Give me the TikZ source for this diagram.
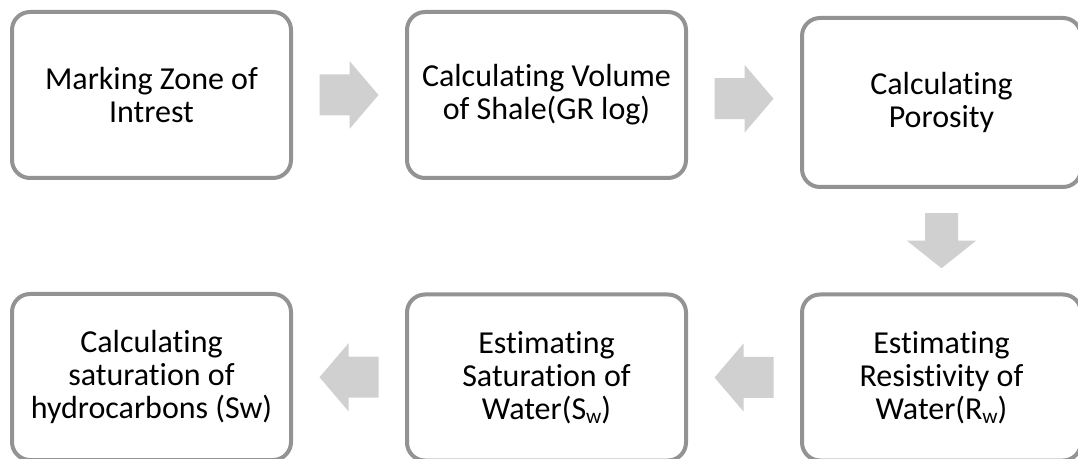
\documentclass[tikz,border=0pt]{standalone}
\usepackage{fontspec}
\setmainfont{Carlito}[Ligatures=NoCommon]
\usetikzlibrary{calc}

\definecolor{boxline}{HTML}{939393}
\definecolor{arrowgray}{HTML}{D0D0D0}

% subscript set low, as in the step labels
\newcommand{\lowsub}[1]{\raisebox{-0.28ex}{\fontsize{16}{16}\selectfont #1}}

\tikzset{
  stepbox/.style={
    draw=boxline, line width=3pt, rounded corners=13.5pt, fill=white,
    minimum width=209.25pt, minimum height=124.5pt,
    align=center, inner sep=0pt, text=black,
    font=\fontsize{24}{24.75}\selectfont
  },
  harrow/.pic={
    \fill[arrowgray] (-29.5,-20.5) -- (0.5,-20.5) -- (0.5,-34) -- (29.5,0)
      -- (0.5,34) -- (0.5,20.5) -- (-29.5,20.5) -- cycle;
  },
  varrow/.pic={
    \fill[arrowgray] (-27.5,-16.5) -- (0,-16.5) -- (0,-34.5) -- (27.5,0)
      -- (0,34.5) -- (0,16.5) -- (-27.5,16.5) -- cycle;
  }
}

\begin{document}
\begin{tikzpicture}[x=0.75pt, y=-0.75pt]
  \useasboundingbox (0,0) rectangle (1078,459);
  \clip (0,0) rectangle (1078,459);

  % top row
  \node[stepbox] (b1) at (151.5,95) {Marking Zone of\\Intrest};
  \node[stepbox] (b2) at (546.5,95) {Calculating Volume\\of Shale(GR log)};
  \node[stepbox, minimum height=126.75pt] (b3) at (941.5,102.5) {Calculating\\Porosity};

  % bottom row
  \node[stepbox] (b6) at (941.5,377.5)
    {Estimating\\Resistivity of\\Water(R\lowsub{w})};
  \node[stepbox] (b5) at (546.5,377.5)
    {Estimating\\Saturation of\\Water(S\lowsub{w})};
  \node[stepbox] (b4) at (151.5,377)
    {Calculating\\saturation of\\hydrocarbons (Sw)};

  % block arrows between the steps
  \coordinate (a1) at ($(b1.east)!0.5!(b2.west)$);
  \coordinate (a2) at ($(b2.east)!0.5!(b3.west)$);
  \coordinate (a3) at ($(b3.south)!0.5!(b6.north)$);
  \coordinate (a4) at ($(b6.west)!0.5!(b5.east)$);
  \coordinate (a5) at ($(b5.west)!0.5!(b4.east)$);

  \pic at (a1) {harrow};
  \pic at (a2) {harrow};
  \pic[rotate=-90] at (a3) {varrow};
  \pic[rotate=180] at (a4) {harrow};
  \pic[rotate=180] at (a5) {harrow};
\end{tikzpicture}
\end{document}
